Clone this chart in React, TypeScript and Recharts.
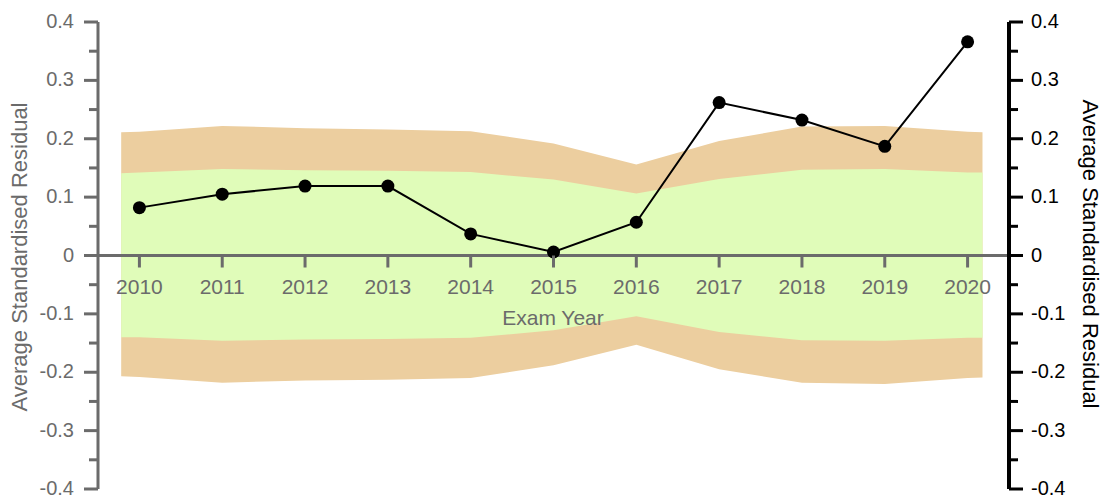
import React from 'react';
import { ComposedChart, Area, Line, XAxis, YAxis, ReferenceLine } from 'recharts';

const years = [2010, 2011, 2012, 2013, 2014, 2015, 2016, 2017, 2018, 2019, 2020];
const residuals = [0.082, 0.105, 0.119, 0.119, 0.037, 0.006, 0.057, 0.262, 0.232, 0.187, 0.366];

// band runs a little past the first and last year
const bandYears = [2009.78, 2010, 2011, 2012, 2013, 2014, 2015, 2016, 2017, 2018, 2019, 2020, 2020.18];
const outerUpper = [0.211, 0.212, 0.222, 0.218, 0.216, 0.213, 0.192, 0.156, 0.196, 0.221, 0.222, 0.212, 0.211];
const innerUpper = [0.141, 0.142, 0.148, 0.146, 0.145, 0.143, 0.13, 0.106, 0.131, 0.147, 0.148, 0.142, 0.142];
const innerLower = [-0.14, -0.14, -0.146, -0.144, -0.143, -0.141, -0.128, -0.104, -0.131, -0.145, -0.146, -0.141, -0.141];
const outerLower = [-0.207, -0.208, -0.218, -0.214, -0.213, -0.21, -0.188, -0.153, -0.195, -0.218, -0.22, -0.21, -0.209];

const yTicks = [-0.4, -0.35, -0.3, -0.25, -0.2, -0.15, -0.1, -0.05, 0, 0.05, 0.1, 0.15, 0.2, 0.25, 0.3, 0.35, 0.4];

const data = bandYears.map((x, i) => {
  const k = years.indexOf(x);
  return {
    x,
    outer: [outerLower[i], outerUpper[i]],
    inner: [innerLower[i], innerUpper[i]],
    residual: k >= 0 ? residuals[k] : undefined,
  };
});

const W = 1103;
const H = 497;
const TOP = 22;
const BOTTOM = 489;
const LEFT_W = 98;
const RIGHT_W = 94;
const ZERO_Y = (TOP + BOTTOM) / 2;
const GRAY = '#6b6b6b';
const FONT = 'Liberation Sans, Arial, sans-serif';

const isMajor = (v: number) => Math.abs(Math.round(v * 20)) % 2 === 0;
const fmt = (v: number) => (Math.abs(v) < 1e-9 ? '0' : (Math.round(v * 10) / 10).toString());

const LeftTick = (props: any) => {
  const { y, payload } = props;
  const v = payload.value;
  const major = isMajor(v);
  return (
    <g>
      <line x1={LEFT_W - (major ? 14 : 9)} x2={LEFT_W} y1={y} y2={y} stroke={GRAY} strokeWidth={3} />
      {major && (
        <text x={74} y={y + 6} textAnchor="end" fill={GRAY} fontSize={20} fontFamily={FONT}>
          {fmt(v)}
        </text>
      )}
    </g>
  );
};

const RightTick = (props: any) => {
  const { y, payload } = props;
  const v = payload.value;
  const major = isMajor(v);
  const ax = W - RIGHT_W;
  return (
    <g>
      <line x1={ax} x2={ax + (major ? 14 : 9)} y1={y} y2={y} stroke="#000" strokeWidth={3} />
      {major && (
        <text x={ax + 22} y={y + 6} textAnchor="start" fill="#000" fontSize={20} fontFamily={FONT}>
          {fmt(v)}
        </text>
      )}
    </g>
  );
};

const XTick = (props: any) => {
  const { x, payload } = props;
  return (
    <g>
      <line x1={x} x2={x} y1={ZERO_Y} y2={ZERO_Y + 12} stroke={GRAY} strokeWidth={3} />
      <text x={x} y={ZERO_Y + 38} textAnchor="middle" fill={GRAY} fontSize={21} fontFamily={FONT}>
        {payload.value}
      </text>
    </g>
  );
};

export default function App() {
  return (
    <div style={{ position: 'absolute', left: 0, top: 0 }}>
      <ComposedChart width={W} height={H} data={data} margin={{ top: TOP, right: 0, bottom: 0, left: 0 }}>
        <YAxis
          yAxisId="left"
          width={LEFT_W}
          domain={[-0.4, 0.4]}
          ticks={yTicks}
          interval={0}
          axisLine={{ stroke: GRAY, strokeWidth: 3 }}
          tickLine={false}
          tick={(p: any) => <LeftTick {...p} />}
          label={{
            content: () => (
              <text
                x={27}
                y={257}
                transform={`rotate(-90 27 257)`}
                textAnchor="middle"
                fill={GRAY}
                fontSize={22}
                fontFamily={FONT}
              >
                Average Standardised Residual
              </text>
            ),
          }}
        />
        <YAxis
          yAxisId="right"
          orientation="right"
          width={RIGHT_W}
          domain={[-0.4, 0.4]}
          ticks={yTicks}
          interval={0}
          axisLine={{ stroke: '#000', strokeWidth: 4 }}
          tickLine={false}
          tick={(p: any) => <RightTick {...p} />}
          label={{
            content: () => (
              <text
                x={1083}
                y={254}
                transform={`rotate(90 1083 254)`}
                textAnchor="middle"
                fill="#000"
                fontSize={22}
                fontFamily={FONT}
              >
                Average Standardised Residual
              </text>
            ),
          }}
        />
        <Area
          yAxisId="left"
          dataKey="outer"
          type="linear"
          stroke="none"
          fill="#ecce9f"
          fillOpacity={1}
          isAnimationActive={false}
        />
        <Area
          yAxisId="left"
          dataKey="inner"
          type="linear"
          stroke="none"
          fill="#e0fcb9"
          fillOpacity={1}
          isAnimationActive={false}
        />
        <ReferenceLine yAxisId="left" y={0} stroke={GRAY} strokeWidth={3} />
        <XAxis
          dataKey="x"
          type="number"
          domain={[2009.5, 2020.5]}
          ticks={years}
          interval={0}
          height={H - BOTTOM}
          axisLine={false}
          tickLine={false}
          tick={(p: any) => <XTick {...p} />}
          label={{
            content: () => (
              <text x={553} y={ZERO_Y + 69} textAnchor="middle" fill={GRAY} fontSize={21} fontFamily={FONT}>
                Exam Year
              </text>
            ),
          }}
        />
        <Line
          yAxisId="right"
          dataKey="residual"
          type="linear"
          stroke="#000"
          strokeWidth={2}
          dot={{ r: 6.5, fill: '#000', stroke: '#000', strokeWidth: 0 }}
          isAnimationActive={false}
        />
      </ComposedChart>
    </div>
  );
}
